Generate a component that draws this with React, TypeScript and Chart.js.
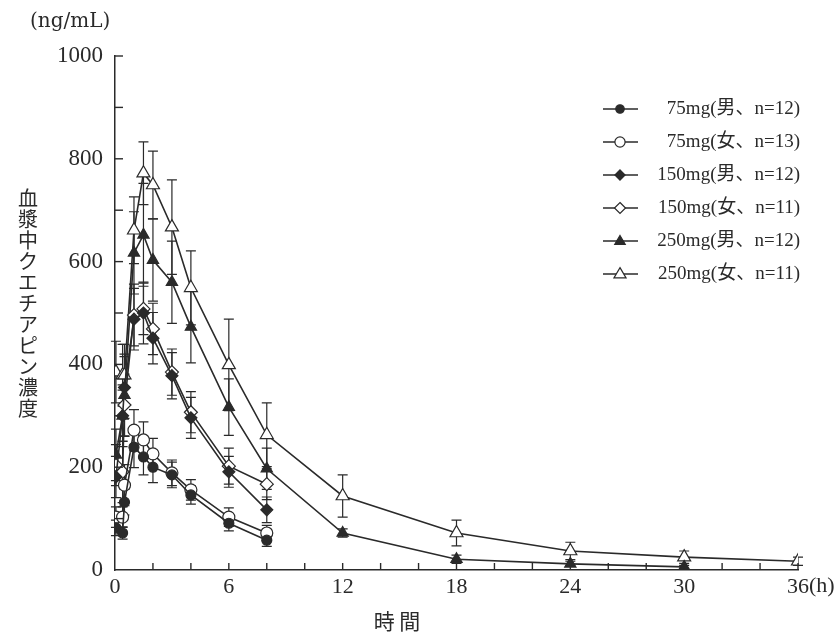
import React, { useEffect, useRef } from "react";
import { Chart, registerables } from "chart.js";

Chart.register(...registerables);

// ---- data ----
const timesShort = [0.05, 0.4, 0.5, 1, 1.5, 2, 3, 4, 6, 8];
const times250M = [0.05, 0.4, 0.5, 1, 1.5, 2, 3, 4, 6, 8, 12, 18, 24, 30];
const times250F = [0.05, 0.4, 0.5, 1, 1.5, 2, 3, 4, 6, 8, 12, 18, 24, 30, 36];

const m75 = [82, 72, 132, 239, 220, 200, 185, 146, 91, 58];
const m75sd = [15, 12, 25, 40, 35, 30, 25, 18, 15, 12];
const f75 = [103, 103, 165, 272, 253, 226, 189, 156, 103, 72];
const f75sd = [20, 20, 40, 40, 35, 30, 25, 20, 18, 15];
const m150 = [181, 300, 355, 488, 500, 451, 378, 296, 191, 117];
const m150sd = [40, 50, 60, 60, 60, 50, 45, 40, 30, 25];
const f150 = [204, 191, 321, 496, 508, 469, 385, 307, 202, 167];
const f150sd = [40, 60, 60, 60, 50, 50, 45, 40, 35, 30];
const m250 = [224, 300, 340, 617, 652, 603, 560, 473, 317, 197, 72, 21, 12, 6];
const m250sd = [50, 60, 80, 80, 100, 80, 80, 70, 55, 40, 8, 8, 5, 3];
const f250 = [385, 379, 379, 661, 772, 749, 667, 549, 399, 263, 144, 72, 37, 25, 17];
const f250sd = [60, 60, 60, 65, 61, 66, 92, 72, 89, 62, 41, 25, 17, 12, 8];

const legendLabels = [
  "75mg(男、n=12)",
  "75mg(女、n=13)",
  "150mg(男、n=12)",
  "150mg(女、n=11)",
  "250mg(男、n=12)",
  "250mg(女、n=11)",
];
const xTickLabels = ["0", "6", "12", "18", "24", "30", "36"];
const yAxisTitle = "血漿中クエチアピン濃度";
const xAxisTitle = "時 間";
const yUnit = "(ng/mL)";

const INK = "#2a2a2a";
const SERIF = "'Liberation Serif', 'DejaVu Serif', 'Noto Sans CJK JP', serif";
const CJK = "'Noto Sans CJK JP', 'Liberation Serif', serif";

type S = { t: number[]; v: number[]; sd: number[]; style: string; filled: boolean; r: number };
const series: S[] = [
  { t: timesShort, v: m75, sd: m75sd, style: "circle", filled: true, r: 5 },
  { t: timesShort, v: f75, sd: f75sd, style: "circle", filled: false, r: 6 },
  { t: timesShort, v: m150, sd: m150sd, style: "rectRot", filled: true, r: 6 },
  { t: timesShort, v: f150, sd: f150sd, style: "rectRot", filled: false, r: 6.5 },
  { t: times250M, v: m250, sd: m250sd, style: "triangle", filled: true, r: 6.5 },
  { t: times250F, v: f250, sd: f250sd, style: "triangle", filled: false, r: 7.5 },
];

const errorBarPlugin = {
  id: "errorBars",
  beforeDatasetsDraw(chart: any) {
    const { ctx, scales } = chart;
    ctx.save();
    ctx.strokeStyle = INK;
    ctx.lineWidth = 1.2;
    series.forEach((s) => {
      s.t.forEach((t, i) => {
        const x = scales.x.getPixelForValue(t);
        const y1 = scales.y.getPixelForValue(s.v[i] + s.sd[i]);
        const y2 = scales.y.getPixelForValue(Math.max(0, s.v[i] - s.sd[i]));
        ctx.beginPath();
        ctx.moveTo(x, y1);
        ctx.lineTo(x, y2);
        ctx.moveTo(x - 5, y1);
        ctx.lineTo(x + 5, y1);
        ctx.moveTo(x - 5, y2);
        ctx.lineTo(x + 5, y2);
        ctx.stroke();
      });
    });
    ctx.restore();
  },
};

const decorPlugin = {
  id: "decor",
  afterDraw(chart: any) {
    const { ctx, scales } = chart;
    const xs = scales.x;
    const ys = scales.y;
    ctx.save();
    ctx.strokeStyle = INK;
    ctx.lineWidth = 1.4;
    // inward ticks
    const x0 = xs.getPixelForValue(0);
    const yb = ys.getPixelForValue(0);
    for (let v = 100; v <= 1000; v += 100) {
      const y = ys.getPixelForValue(v);
      ctx.beginPath();
      ctx.moveTo(x0, y);
      ctx.lineTo(x0 + 8, y);
      ctx.stroke();
    }
    for (let t = 2; t <= 36; t += 2) {
      const x = xs.getPixelForValue(t);
      ctx.beginPath();
      ctx.moveTo(x, yb);
      ctx.lineTo(x, yb - 7);
      ctx.stroke();
    }
    // texts
    ctx.fillStyle = INK;
    ctx.textBaseline = "middle";
    ctx.font = `20px 'DejaVu Serif', ${SERIF}`;
    ctx.textAlign = "left";
    ctx.fillText(yUnit, 30, 22);
    ctx.font = `22px ${SERIF}`;
    ctx.fillText("(h)", xs.getPixelForValue(36) + 11, yb + 16);
    ctx.font = `20px ${CJK}`;
    ctx.textAlign = "center";
    const chars = Array.from(yAxisTitle);
    chars.forEach((c, i) => ctx.fillText(c, 28, 198 + i * 21));
    ctx.font = `21px ${CJK}`;
    ctx.fillText(xAxisTitle, 397, 621);
    // legend
    ctx.font = `19px ${SERIF}`;
    legendLabels.forEach((lab, i) => {
      const y = 109 + i * 33;
      const s = series[i];
      ctx.beginPath();
      ctx.strokeStyle = INK;
      ctx.lineWidth = 1.6;
      ctx.moveTo(603, y);
      ctx.lineTo(638, y);
      ctx.stroke();
      ctx.fillStyle = s.filled ? INK : "#fff";
      ctx.lineWidth = 1.2;
      ctx.beginPath();
      const r = s.r * 0.85;
      if (s.style === "circle") {
        ctx.arc(620, y, r, 0, Math.PI * 2);
      } else if (s.style === "rectRot") {
        ctx.moveTo(620, y - r);
        ctx.lineTo(620 + r, y);
        ctx.lineTo(620, y + r);
        ctx.lineTo(620 - r, y);
        ctx.closePath();
      } else {
        ctx.moveTo(620, y - r);
        ctx.lineTo(620 + r * 0.95, y + r * 0.6);
        ctx.lineTo(620 - r * 0.95, y + r * 0.6);
        ctx.closePath();
      }
      ctx.fill();
      ctx.stroke();
      ctx.fillStyle = INK;
      ctx.textAlign = "right";
      ctx.fillText(lab, 800, y);
    });
    ctx.restore();
  },
};

export default function App() {
  const ref = useRef<HTMLCanvasElement>(null);
  useEffect(() => {
    if (!ref.current) return;
    const chart = new Chart(ref.current, {
      type: "line",
      data: {
        datasets: series.map((s, i) => ({
          label: legendLabels[i],
          data: s.t.map((t, j) => ({ x: t, y: s.v[j] })),
          borderColor: INK,
          borderWidth: 1.6,
          pointStyle: s.style as any,
          pointRadius: s.r,
          pointBorderWidth: 1.2,
          pointBorderColor: INK,
          pointBackgroundColor: s.filled ? INK : "#ffffff",
          tension: 0,
          fill: false,
        })),
      },
      options: {
        animation: false,
        responsive: true,
        maintainAspectRatio: false,
        layout: { padding: { top: 56, right: 42, left: 0, bottom: 0 } },
        plugins: { legend: { display: false }, tooltip: { enabled: false } },
        scales: {
          x: {
            type: "linear",
            min: 0,
            max: 36,
            afterBuildTicks: (scale: any) => {
              scale.ticks = xTickLabels.map((l) => ({ value: Number(l) }));
            },
            ticks: {
              color: INK,
              font: { family: SERIF, size: 22 },
              padding: 4,
              maxRotation: 0,
              autoSkip: false,
              callback: (v: any) => String(v),
            },
            grid: { display: false, drawTicks: false },
            border: { display: true, color: INK, width: 1.5 },
            afterFit: (scale: any) => {
              scale.height = 63;
            },
          },
          y: {
            min: 0,
            max: 1000,
            ticks: {
              stepSize: 200,
              color: INK,
              font: { family: SERIF, size: 23 },
              padding: 12,
              callback: (v: any) => String(v),
            },
            grid: { display: false, drawTicks: false },
            border: { display: true, color: INK, width: 1.5 },
            afterFit: (scale: any) => {
              scale.width = 115;
            },
          },
        },
      },
      plugins: [errorBarPlugin, decorPlugin],
    });
    return () => chart.destroy();
  }, []);
  return (
    <div style={{ position: "absolute", left: 0, top: 0, width: 840, height: 633, background: "#fff" }}>
      <canvas ref={ref} />
    </div>
  );
}
